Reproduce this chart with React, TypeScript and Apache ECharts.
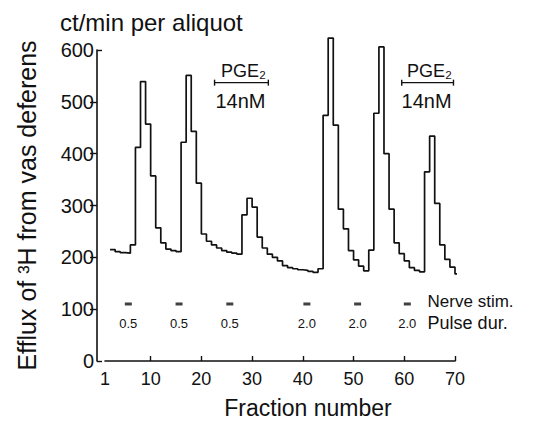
import React, { useEffect, useRef } from "react";
import * as echarts from "echarts";

// Step trace: fraction number -> tritium efflux (ct/min per aliquot)
const fractions = [
  2, 3, 4, 5, 6, 7, 8, 9, 10, 11, 12, 13, 14, 15, 16, 17, 18, 19, 20, 21,
  22, 23, 24, 25, 26, 27, 28, 29, 30, 31, 32, 33, 34, 35, 36, 37, 38, 39, 40, 41,
  42, 43, 44, 45, 46, 47, 48, 49, 50, 51, 52, 53, 54, 55, 56, 57, 58, 59, 60, 61,
  62, 63, 64, 65, 66, 67, 68, 69, 70, 71, 72, 73,
];
const efflux = [
  215, 211, 209, 208, 224, 412, 539, 457, 357, 257, 228, 216, 213, 211, 422, 551, 443, 343, 245, 231,
  224, 218, 213, 210, 208, 206, 282, 314, 297, 239, 218, 206, 200, 193, 184, 180, 178, 176, 175, 173,
  171, 178, 474, 623, 455, 293, 255, 213, 195, 183, 174, 214, 478, 606, 400, 293, 228, 207, 193, 180,
  175, 172, 365, 434, 304, 224, 196, 181, 168, 160, 155, 155,
];

// Nerve stimulation periods and pulse durations
const stimFractions = [5.6, 15.6, 25.6, 40.8, 50.8, 60.6];
const pulseDurations = ["0.5", "0.5", "0.5", "2.0", "2.0", "2.0"];
const stimMarkLevel = 110;
const pulseLabelLevel = 73;
const legendFraction = 64.6;
const legendTexts = ["Nerve stim.", "Pulse dur."];
const legendLevels = [114, 73];
const legendSizes = [17, 18];

// PGE2 application periods
const pgeStart = [22.6, 59.5];
const pgeEnd = [33.2, 69.7];
const pgeLevel = 537;
const pgeLabel = "PGE₂";
const pgeConc = "14nM";

// Axes
const xLabelValues = [1, 10, 20, 30, 40, 50, 60, 70];
const xTickValues = [10, 20, 30, 40, 50, 60, 70];
const yTickValues = [100, 200, 300, 400, 500];
const yEndValues = [0, 600];

const FONT = '"Liberation Sans", Arial, Helvetica, sans-serif';

export default function App() {
  const ref = useRef<HTMLDivElement>(null);

  useEffect(() => {
    if (!ref.current) return;
    const chart = echarts.init(ref.current, null, { renderer: "svg" });
    const black = "#111";

    const option: any = {
      animation: false,
      backgroundColor: "#fff",
      textStyle: { fontFamily: FONT, color: black },
      title: {
        text: "ct/min per aliquot",
        left: 55,
        top: 5,
        textStyle: { fontFamily: FONT, fontSize: 24, fontWeight: "normal", color: black },
      },
      grid: {
        left: 105,
        right: 88,
        top: 50,
        bottom: 62,
        containLabel: false,
        outerBoundsMode: "none",
      },
      xAxis: {
        type: "value",
        min: 1,
        max: 70,
        name: "Fraction number",
        nameLocation: "middle",
        nameGap: 35,
        nameTextStyle: { fontFamily: FONT, fontSize: 23, color: black, padding: [0, 0, 0, 56] },
        axisLine: { show: true, lineStyle: { color: black, width: 1.6 } },
        axisTick: {
          show: true,
          inside: true,
          length: 5,
          customValues: xTickValues,
          lineStyle: { color: black, width: 1.4 },
        },
        axisLabel: {
          show: true,
          customValues: xLabelValues,
          fontFamily: FONT,
          fontSize: 18,
          color: black,
          margin: 9,
        },
        splitLine: { show: false },
      },
      yAxis: [
        {
          type: "value",
          min: 0,
          max: 600,
          interval: 100,
          offset: 8,
          name: "Efflux of ³H from vas deferens",
          nameLocation: "middle",
          nameRotate: 90,
          nameGap: 58,
          nameTextStyle: { fontFamily: FONT, fontSize: 25, color: black },
          axisLine: { show: true, lineStyle: { color: black, width: 1.6 } },
          axisTick: {
            show: true,
            inside: false,
            length: 7,
            customValues: yTickValues,
            lineStyle: { color: black, width: 1.4 },
          },
          axisLabel: { show: true, fontFamily: FONT, fontSize: 20, color: black, margin: 3 },
          splitLine: { show: false },
        },
        {
          type: "value",
          min: 0,
          max: 600,
          position: "left",
          offset: 8,
          axisLine: { show: false },
          axisLabel: { show: false },
          axisTick: {
            show: true,
            inside: true,
            length: 5,
            customValues: yEndValues,
            lineStyle: { color: black, width: 1.4 },
          },
          splitLine: { show: false },
        },
      ],
      series: [
        {
          type: "line",
          step: "end",
          clip: false,
          showSymbol: false,
          symbol: "none",
          data: fractions.map((f, i) => [f, efflux[i]]),
          lineStyle: { color: black, width: 1.7 },
        },
        {
          type: "scatter",
          symbol: "rect",
          symbolSize: [7, 3],
          itemStyle: { color: black },
          data: stimFractions.map((f) => [f, stimMarkLevel]),
        },
        {
          type: "custom",
          clip: false,
          data: stimFractions.map((f) => [f, pulseLabelLevel]),
          renderItem: (params: any, api: any) => {
            const p = api.coord([api.value(0), api.value(1)]);
            return {
              type: "text",
              style: {
                text: pulseDurations[params.dataIndex],
                x: p[0],
                y: p[1],
                textAlign: "center",
                textVerticalAlign: "middle",
                font: `13px ${FONT}`,
                fill: black,
              },
            };
          },
        },
        {
          type: "custom",
          clip: false,
          data: legendLevels.map((v) => [legendFraction, v]),
          renderItem: (params: any, api: any) => {
            const p = api.coord([api.value(0), api.value(1)]);
            return {
              type: "text",
              style: {
                text: legendTexts[params.dataIndex],
                x: p[0],
                y: p[1],
                textAlign: "left",
                textVerticalAlign: "middle",
                font: `${legendSizes[params.dataIndex]}px ${FONT}`,
                fill: black,
              },
            };
          },
        },
        {
          type: "custom",
          clip: false,
          data: pgeStart.map((s, i) => [s, pgeEnd[i], pgeLevel]),
          renderItem: (params: any, api: any) => {
            const a = api.coord([api.value(0), api.value(2)]);
            const b = api.coord([api.value(1), api.value(2)]);
            const cx = (a[0] + b[0]) / 2;
            const ls = { stroke: black, lineWidth: 1.4 };
            return {
              type: "group",
              children: [
                { type: "line", shape: { x1: a[0], y1: a[1], x2: b[0], y2: b[1] }, style: ls },
                { type: "line", shape: { x1: a[0], y1: a[1] - 3, x2: a[0], y2: a[1] + 3 }, style: ls },
                { type: "line", shape: { x1: b[0], y1: b[1] - 3, x2: b[0], y2: b[1] + 3 }, style: ls },
                {
                  type: "text",
                  style: {
                    text: pgeLabel,
                    x: cx + 2,
                    y: a[1] - 3,
                    textAlign: "center",
                    textVerticalAlign: "bottom",
                    font: `18px ${FONT}`,
                    fill: black,
                  },
                },
                {
                  type: "text",
                  style: {
                    text: pgeConc,
                    x: cx - 1,
                    y: a[1] + 8,
                    textAlign: "center",
                    textVerticalAlign: "top",
                    font: `20px ${FONT}`,
                    fill: black,
                  },
                },
              ],
            };
          },
        },
      ],
    };

    chart.setOption(option);
    return () => chart.dispose();
  }, []);

  return (
    <div
      ref={ref}
      style={{ position: "absolute", left: 0, top: 0, width: 543, height: 423, background: "#fff" }}
    />
  );
}
